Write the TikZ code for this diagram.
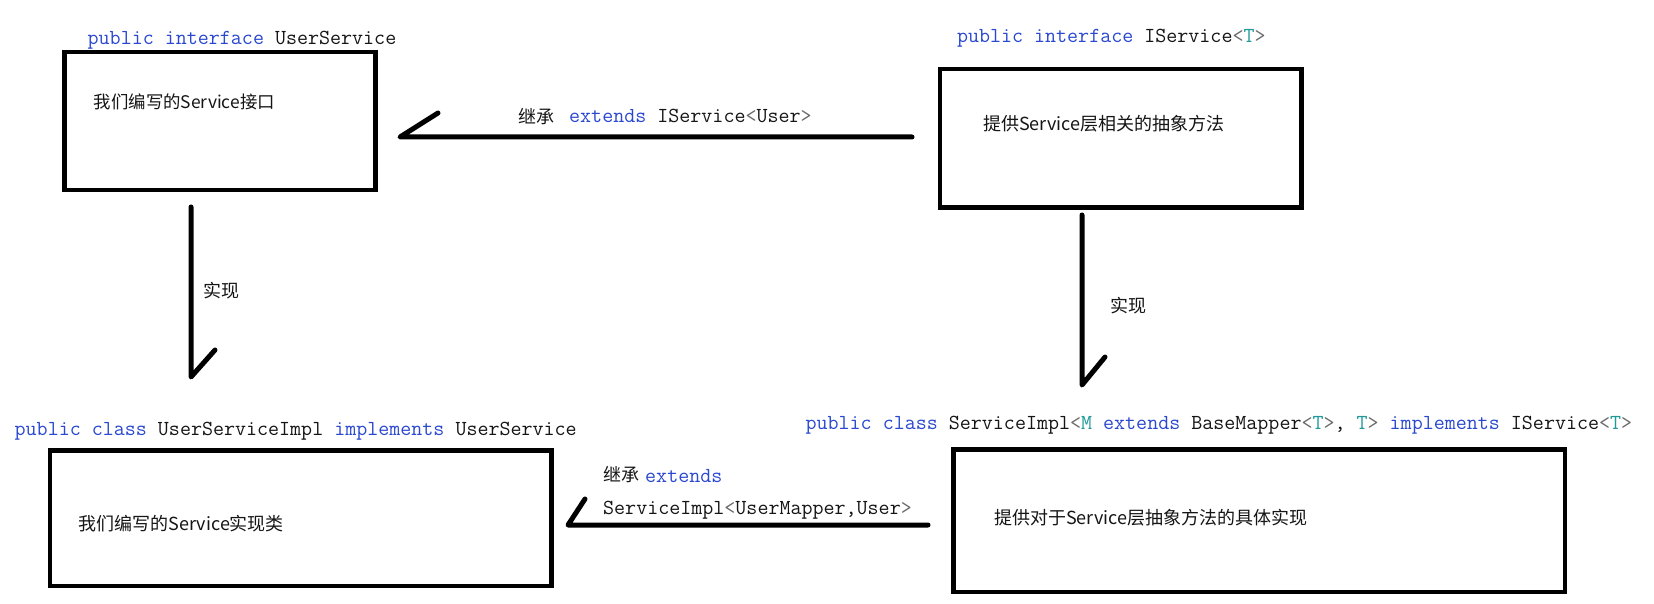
\documentclass[tikz,border=0pt]{standalone}
\usepackage{fontspec}
\newfontfamily\cjk{Noto Sans CJK SC}
\setmonofont{Latin Modern Mono}
\definecolor{kw}{HTML}{2A48D0}
\definecolor{tp}{HTML}{1F9A9A}
\definecolor{br}{HTML}{6A6A6A}
\definecolor{ink}{HTML}{151515}
\newcommand\mykw[1]{\textcolor{kw}{#1}}
\newcommand\mytp[1]{\textcolor{tp}{#1}}
\newcommand\mybr[1]{\textcolor{br}{#1}}
\tikzset{
  box/.style={draw=black, line width=4.5pt, inner sep=0pt, rectangle},
  code/.style={inner sep=0pt, anchor=base west, text=ink, font=\ttfamily\fontsize{21.4}{25}\selectfont},
  zh/.style={inner sep=0pt, anchor=west, text=ink, font=\cjk\fontsize{18}{22}\selectfont},
  arr/.style={draw=black, line width=5pt, line cap=round, line join=round}
}
\begin{document}
\begin{tikzpicture}[x=1pt, y=-1pt]
\useasboundingbox[fill=white] (0,0) rectangle (1654,604);
% boxes
\node[box, minimum width=310.6pt, minimum height=137.6pt] (b1) at (220,121) {};
\node[box, minimum width=361.6pt, minimum height=138.9pt] (b2) at (1120.6,138.3) {};
\node[box, minimum width=501.6pt, minimum height=135.3pt] (b3) at (300.8,518.2) {};
\node[box, minimum width=611.1pt, minimum height=142.3pt] (b4) at (1259.2,520.7) {};
% titles
\node[code] (t1) at (87.5,45) {\mykw{public interface} UserService};
\node[code] (t2) at (956.8,43) {\mykw{public interface} IService\mybr{<}\mytp{T}\mybr{>}};
\node[code] (t3) at (14.5,435) {\mykw{public class} UserServiceImpl \mykw{implements} UserService};
\node[code] (t4) at (805.4,429) {\mykw{public class} ServiceImpl\mybr{<}\mytp{M} \mykw{extends} BaseMapper\mybr{<}\mytp{T}\mybr{>}, \mytp{T}\mybr{>} \mykw{implements} IService\mybr{<}\mytp{T}\mybr{>}};
% box texts
\node[zh, font=\cjk\fontsize{17.4}{21}\selectfont] (d1) at (93.6,102) {我们编写的Service接口};
\node[zh] (d2) at (982.8,124) {提供Service层相关的抽象方法};
\node[zh] (d3) at (78.5,524) {我们编写的Service实现类};
\node[zh] (d4) at (993.9,518) {提供对于Service层抽象方法的具体实现};
% arrow endpoints
\coordinate (a1s) at (912,137); \coordinate (a1t) at (400,137); \coordinate (a1b) at (438,113);
\coordinate (a2s) at (191,207); \coordinate (a2t) at (191,377); \coordinate (a2b) at (215,350);
\coordinate (a3s) at (1082,215); \coordinate (a3t) at (1082,385); \coordinate (a3b) at (1105,357);
\coordinate (a4s) at (928,525); \coordinate (a4t) at (568,525); \coordinate (a4b) at (585,499);
\draw[arr] (a1s) -- (a1t) -- (a1b);
\draw[arr] (a2s) -- (a2t) -- (a2b);
\draw[arr] (a3s) -- (a3t) -- (a3b);
\draw[arr] (a4s) -- (a4t) -- (a4b);
% arrow labels
\node[zh] (l1a) at (518.6,117) {继承};
\node[code] (l1b) at (569,123) {\mykw{extends} IService\mybr{<}User\mybr{>}};
\node[zh] (l2) at (203,291) {实现};
\node[zh] (l3) at (1110,306) {实现};
\node[zh] (l4a) at (603,475) {继承};
\node[code] (l4b) at (645,482) {\mykw{extends}};
\node[code] (l4c) at (603,514) {ServiceImpl\mybr{<}UserMapper,User\mybr{>}};
\end{tikzpicture}
\end{document}
